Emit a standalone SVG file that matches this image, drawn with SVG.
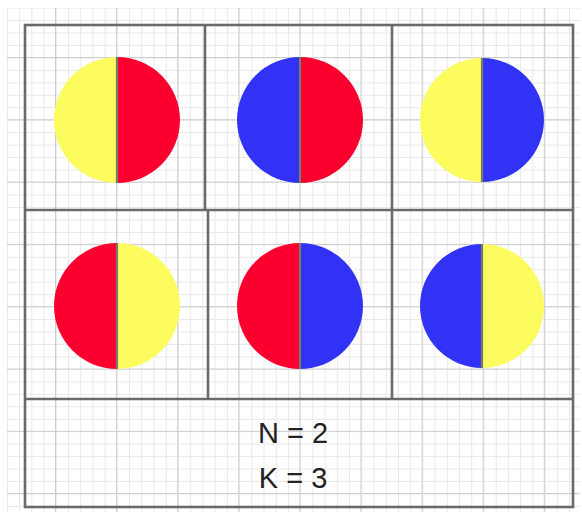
<svg xmlns="http://www.w3.org/2000/svg" width="582" height="512" viewBox="0 0 582 512">
  <defs>
    <pattern id="minor" patternUnits="userSpaceOnUse" x="6.9" y="7.6" width="12.22" height="12.46">
      <path d="M0.5 0V12.46M0 0.5H12.22" fill="none" stroke="#e8e8e8" stroke-width="1"/>
    </pattern>
    <pattern id="major" patternUnits="userSpaceOnUse" x="-6.1" y="-5.3" width="61.1" height="62.3">
      <path d="M0 0V62.3M0 0H61.1" fill="none" stroke="#cdcdcd" stroke-width="2"/>
    </pattern>
    <clipPath id="L"><rect x="-100" y="-100" width="100" height="200"/></clipPath>
    <clipPath id="R"><rect x="0" y="-100" width="100" height="200"/></clipPath>
  </defs>
  <style>
    .frame{fill:none;stroke:#6a6a6a;stroke-width:2.6}
    .y{fill:#fdfc5e}
    .r{fill:#fb002e}
    .b{fill:#3232f6}
    .edge{fill:none;stroke:#ffffff;stroke-opacity:0.35;stroke-width:1}
    .mid{stroke:#7a7a6a;stroke-width:2.2}
    .t{font-family:"Liberation Sans",Arial,sans-serif;font-size:29px;fill:#222;text-anchor:middle}
  </style>
  <rect width="582" height="512" fill="#ffffff"/>
  <g id="grid">
    <rect x="7" y="8" width="573" height="504" fill="url(#minor)"/>
    <rect x="7" y="8" width="573" height="504" fill="url(#major)"/>
  </g>
  <g id="frame">
    <rect class="frame" x="25" y="25" width="548" height="482"/>
    <line class="frame" x1="25" y1="210" x2="573" y2="210"/>
    <line class="frame" x1="25" y1="399" x2="573" y2="399"/>
    <line class="frame" x1="205" y1="25" x2="205" y2="210"/>
    <line class="frame" x1="392" y1="25" x2="392" y2="210"/>
    <line class="frame" x1="208" y1="210" x2="208" y2="399"/>
    <line class="frame" x1="392" y1="210" x2="392" y2="399"/>
  </g>
  <g id="c1" transform="translate(117,120)">
    <circle r="63" class="y" clip-path="url(#L)"/><circle r="63" class="r" clip-path="url(#R)"/>
    <line class="mid" x1="0" y1="-63" x2="0" y2="63"/>
  </g>
  <g id="c2" transform="translate(300,120)">
    <circle r="63" class="b" clip-path="url(#L)"/><circle r="63" class="r" clip-path="url(#R)"/>
    <line class="mid" x1="0" y1="-63" x2="0" y2="63"/>
  </g>
  <g id="c3" transform="translate(482,120)">
    <circle r="62" class="y" clip-path="url(#L)"/><circle r="62" class="b" clip-path="url(#R)"/>
    <line class="mid" x1="0" y1="-62" x2="0" y2="62"/>
  </g>
  <g id="c4" transform="translate(117,306)">
    <circle r="63" class="r" clip-path="url(#L)"/><circle r="63" class="y" clip-path="url(#R)"/>
    <line class="mid" x1="0" y1="-63" x2="0" y2="63"/>
  </g>
  <g id="c5" transform="translate(300,306)">
    <circle r="63" class="r" clip-path="url(#L)"/><circle r="63" class="b" clip-path="url(#R)"/>
    <line class="mid" x1="0" y1="-63" x2="0" y2="63"/>
  </g>
  <g id="c6" transform="translate(482,306)">
    <circle r="62" class="b" clip-path="url(#L)"/><circle r="62" class="y" clip-path="url(#R)"/>
    <line class="mid" x1="0" y1="-62" x2="0" y2="62"/>
  </g>
  <g id="label">
    <text class="t" x="293" y="443">N = 2</text>
    <text class="t" x="293" y="488">K = 3</text>
  </g>
</svg>
